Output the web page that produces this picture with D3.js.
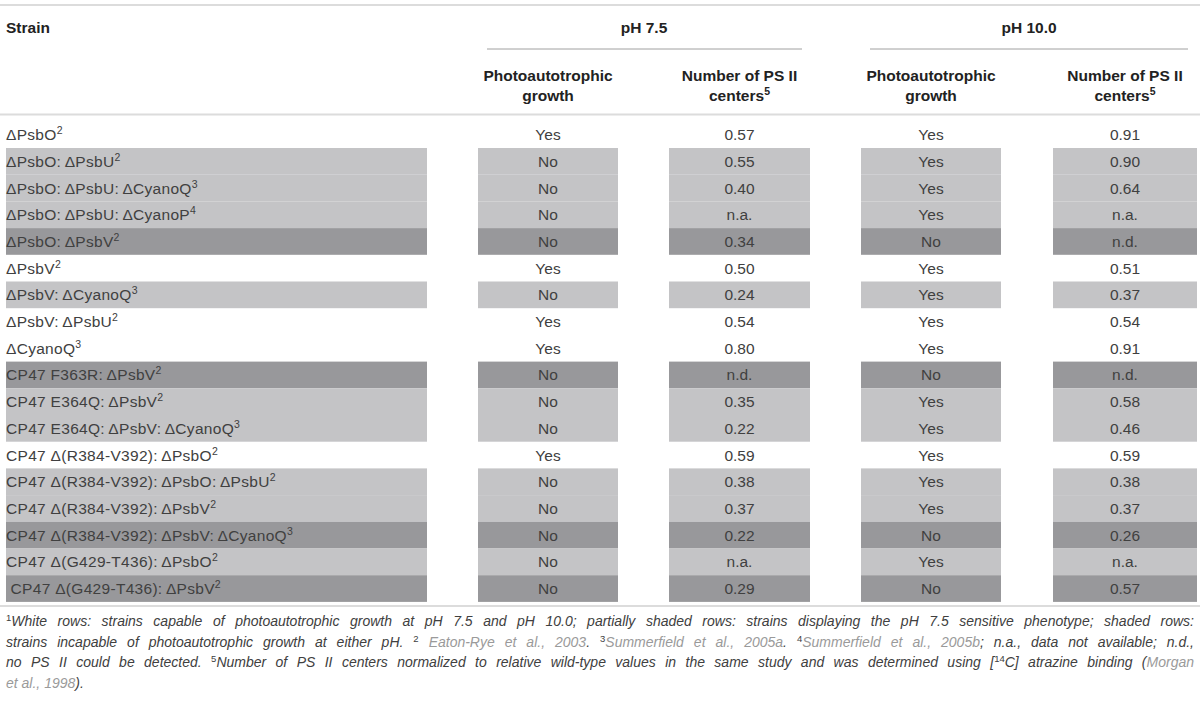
<!DOCTYPE html>
<html>
<head>
<meta charset="utf-8">
<script src="https://cdn.jsdelivr.net/npm/d3@7"></script>
<style>
  body { margin: 0; background: #fff; }
  svg { display: block; }
</style>
</head>
<body>
<div id="chart"></div>
<script>
// table content
const strains = [
  'ΔPsbO', 'ΔPsbO:\u2009ΔPsbU', 'ΔPsbO:\u2009ΔPsbU:\u2009ΔCyanoQ', 'ΔPsbO:\u2009ΔPsbU:\u2009ΔCyanoP',
  'ΔPsbO:\u2009ΔPsbV', 'ΔPsbV', 'ΔPsbV:\u2009ΔCyanoQ', 'ΔPsbV:\u2009ΔPsbU', 'ΔCyanoQ',
  'CP47 F363R:\u2009ΔPsbV', 'CP47 E364Q:\u2009ΔPsbV', 'CP47 E364Q:\u2009ΔPsbV:\u2009ΔCyanoQ',
  'CP47 Δ(R384-V392):\u2009ΔPsbO', 'CP47 Δ(R384-V392):\u2009ΔPsbO:\u2009ΔPsbU',
  'CP47 Δ(R384-V392):\u2009ΔPsbV', 'CP47 Δ(R384-V392):\u2009ΔPsbV:\u2009ΔCyanoQ',
  'CP47 Δ(G429-T436):\u2009ΔPsbO', ' CP47 Δ(G429-T436):\u2009ΔPsbV'
];
const strainNotes = ['2', '2', '3', '4', '2', '2', '3', '2', '3', '2', '2', '3', '2', '2', '2', '3', '2', '2'];
const growth75 = ['Yes', 'No', 'No', 'No', 'No', 'Yes', 'No', 'Yes', 'Yes', 'No', 'No', 'No', 'Yes', 'No', 'No', 'No', 'No', 'No'];
const centers75 = ['0.57', '0.55', '0.40', 'n.a.', '0.34', '0.50', '0.24', '0.54', '0.80', 'n.d.', '0.35', '0.22', '0.59', '0.38', '0.37', '0.22', 'n.a.', '0.29'];
const growth100 = ['Yes', 'Yes', 'Yes', 'Yes', 'No', 'Yes', 'Yes', 'Yes', 'Yes', 'No', 'Yes', 'Yes', 'Yes', 'Yes', 'Yes', 'No', 'Yes', 'No'];
const centers100 = ['0.91', '0.90', '0.64', 'n.a.', 'n.d.', '0.51', '0.37', '0.54', '0.91', 'n.d.', '0.58', '0.46', '0.59', '0.38', '0.37', '0.26', 'n.a.', '0.57'];
// 0 = white, 1 = partially shaded, 2 = shaded
const shading = [0, 1, 1, 1, 2, 0, 1, 0, 0, 2, 1, 1, 0, 1, 1, 2, 1, 2];

const groupLabels = ['pH 7.5', 'pH 10.0'];
const subLabels = [['Photoautotrophic', 'growth'], ['Number of PS II', 'centers']];

const footnote = [
  [['1', 'sup'], ['White rows: strains capable of photoautotrophic growth at pH 7.5 and pH 10.0; partially shaded rows: strains displaying the pH 7.5 sensitive phenotype; shaded rows:', '']],
  [['strains incapable of photoautotrophic growth at either pH. ', ''], ['2', 'sup'], [' ', ''], ['Eaton-Rye et al., 2003', 'ref'], ['. ', ''], ['3', 'sup'], ['Summerfield et al., 2005a', 'ref'], ['. ', ''], ['4', 'sup'], ['Summerfield et al., 2005b', 'ref'], ['; n.a., data not available; n.d.,', '']],
  [['no PS II could be detected. ', ''], ['5', 'sup'], ['Number of PS II centers normalized to relative wild-type values in the same study and was determined using [', ''], ['14', 'sup'], ['C] atrazine binding (', ''], ['Morgan', 'ref']],
  [['et al., 1998', 'ref'], [').', '']]
];

const width = 1200, height = 705;
const shadeColor = ['none', '#c4c4c6', '#98989b'];
const textColor = '#404040';
const bodyFont = '"Liberation Sans", Arial, Helvetica, sans-serif';

const svg = d3.select('#chart').append('svg')
  .attr('width', width)
  .attr('height', height)
  .style('font-family', bodyFont);

// column boxes (left, right)
const cols = [
  { key: 'strain', x0: 6, x1: 427 },
  { key: 'g75', x0: 478, x1: 618 },
  { key: 'c75', x0: 669, x1: 810 },
  { key: 'g100', x0: 861, x1: 1001 },
  { key: 'c100', x0: 1053, x1: 1197 }
];

const y = d3.scaleBand()
  .domain(d3.range(strains.length))
  .range([121.3, 601.9])
  .paddingInner(0);

const rows = strains.map((s, i) => ({
  i, strain: s, note: strainNotes[i], shade: shading[i],
  g75: growth75[i], c75: centers75[i], g100: growth100[i], c100: centers100[i]
}));

// rules
const rule = (x1, x2, yy, color, w) => svg.append('line')
  .attr('x1', x1).attr('x2', x2).attr('y1', yy).attr('y2', yy)
  .attr('stroke', color).attr('stroke-width', w);

rule(0, width, 5, '#dcdcdc', 2);
rule(487, 802, 49, '#a0a0a0', 1);
rule(870, 1188, 49, '#a0a0a0', 1);
rule(0, width, 114.5, '#dcdcdc', 2);
rule(0, width, 606, '#dcdcdc', 2);

// header
const head = svg.append('g')
  .attr('font-weight', 700)
  .attr('font-size', '15.5px')
  .attr('fill', '#222');

head.append('text').attr('x', 6).attr('y', 33).text('Strain');
head.selectAll('.grp')
  .data(groupLabels)
  .enter()
  .append('text')
  .attr('class', 'grp')
  .attr('x', (d, i) => i === 0 ? 644 : 1029)
  .attr('y', 33)
  .attr('text-anchor', 'middle')
  .text(d => d);

cols.slice(1).forEach((c, ci) => {
  const lab = subLabels[ci % 2];
  const t = head.append('text')
    .attr('x', (c.x0 + c.x1) / 2)
    .attr('y', 81)
    .attr('text-anchor', 'middle');
  t.append('tspan').attr('x', (c.x0 + c.x1) / 2).text(lab[0]);
  t.append('tspan').attr('x', (c.x0 + c.x1) / 2).attr('dy', 20).text(lab[1]);
  if (ci % 2 === 1) {
    t.append('tspan').attr('dy', -6).attr('font-size', '10.5px').text('5');
  }
});

// shaded cells
const body = svg.append('g');
rows.filter(r => r.shade > 0).forEach(r => {
  body.selectAll(null)
    .data(cols)
    .enter()
    .append('rect')
    .attr('x', c => c.x0)
    .attr('y', y(r.i))
    .attr('width', c => c.x1 - c.x0)
    .attr('height', y.bandwidth())
    .attr('fill', shadeColor[r.shade]);
});

// strain labels
const labels = body.selectAll('.strain')
  .data(rows)
  .enter()
  .append('text')
  .attr('class', 'strain')
  .attr('x', 6)
  .attr('y', d => y(d.i) + y.bandwidth() / 2 + 5.5)
  .attr('fill', textColor)
  .attr('font-size', '15.5px')
  .attr('letter-spacing', 0.3)
  .attr('xml:space', 'preserve')
  .style('white-space', 'pre');
labels.append('tspan').text(d => d.strain);
labels.append('tspan').attr('dy', -6).attr('font-size', '10.5px').text(d => d.note);

// value cells
cols.slice(1).forEach(c => {
  body.selectAll('.v-' + c.key)
    .data(rows)
    .enter()
    .append('text')
    .attr('class', 'v-' + c.key)
    .attr('x', (c.x0 + c.x1) / 2)
    .attr('y', d => y(d.i) + y.bandwidth() / 2 + 5.5)
    .attr('text-anchor', 'middle')
    .attr('fill', textColor)
    .attr('font-size', '15.5px')
    .text(d => d[c.key]);
});

// footnote, justified
const foot = svg.append('g')
  .attr('font-size', '14px')
  .attr('font-style', 'italic')
  .attr('fill', textColor);

footnote.forEach((line, li) => {
  const t = foot.append('text')
    .attr('x', 6)
    .attr('y', 626 + li * 20.5)
    .attr('xml:space', 'preserve')
    .style('white-space', 'pre');
  let shifted = false;
  line.forEach(([txt, kind]) => {
    const sp = t.append('tspan').text(txt);
    if (kind === 'sup') {
      sp.attr('font-size', '9.5px').attr('font-style', 'normal').attr('dy', -5);
      shifted = true;
    } else {
      if (shifted) { sp.attr('dy', 5); shifted = false; }
      if (kind === 'ref') sp.attr('fill', '#9a9a9a');
    }
  });
  if (li < footnote.length - 1) {
    const full = line.map(d => d[0]).join('');
    const spaces = (full.match(/ /g) || []).length;
    const len = t.node().getComputedTextLength();
    const extra = (1194 - 6 - len) / spaces;
    t.attr('word-spacing', extra);
  }
});
</script>
</body>
</html>
